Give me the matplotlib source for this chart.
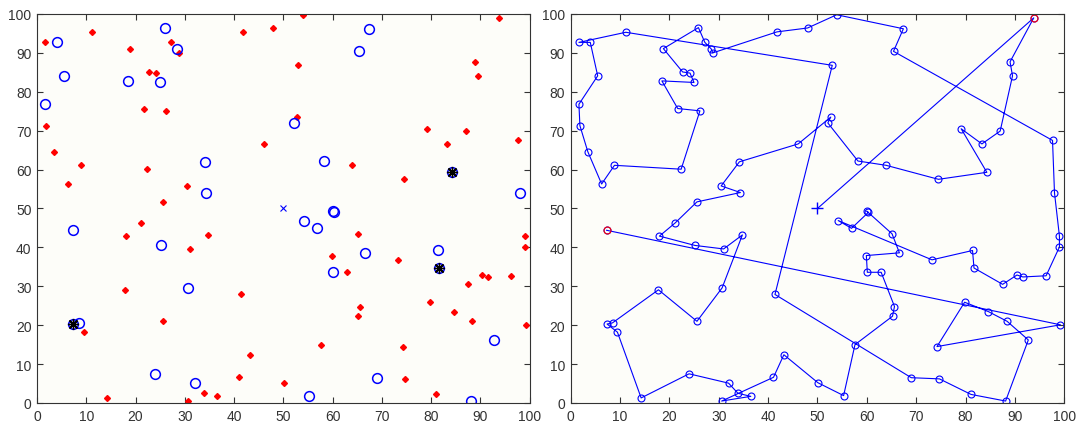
import matplotlib
matplotlib.use("Agg")
from matplotlib import pyplot as plt
import numpy as np

# depot (centre)
depot_x = 50
depot_y = 50

# visiting order of the tour
route_x = [93.8, 89.0, 89.5, 87.0, 83.3, 79.1, 84.3, 74.5, 63.9, 58.2,
           52.1, 52.7, 46.1, 34.2, 30.5, 34.4, 25.6, 21.2, 18.0, 25.2,
           31.0, 34.8, 30.7, 25.6, 17.8, 8.5, 7.4, 9.5, 14.3, 24.0,
           32.0, 33.9, 36.5, 30.6, 41.1, 43.2, 50.1, 55.3, 57.6, 65.2,
           65.6, 62.9, 60.1, 59.9, 66.6, 65.1, 60.0, 60.3, 56.9, 54.2,
           73.2, 81.4, 81.7, 87.5, 90.4, 91.6, 96.3, 99.0, 99.0, 98.0,
           97.6, 65.4, 67.4, 53.9, 48.0, 41.8, 28.8, 28.5, 27.2, 25.9,
           18.8, 22.7, 24.2, 25.0, 18.5, 21.7, 26.2, 22.4, 8.9, 6.3,
           3.5, 1.9, 1.7, 5.5, 4.0, 1.7, 11.2, 53.0, 41.4, 69.0,
           74.7, 81.1, 88.1, 92.7, 88.4, 84.6, 79.8, 74.2, 99.2, 7.3]
route_y = [99.0, 87.7, 84.1, 69.9, 66.6, 70.5, 59.3, 57.5, 61.1, 62.2,
           72.0, 73.5, 66.6, 62.0, 55.8, 54.1, 51.7, 46.3, 42.9, 40.5,
           39.6, 43.2, 29.6, 21.0, 29.1, 20.6, 20.3, 18.2, 1.3, 7.5,
           5.1, 2.5, 1.7, 0.5, 6.6, 12.4, 5.2, 1.9, 15.0, 22.3,
           24.8, 33.6, 33.6, 37.9, 38.6, 43.5, 49.3, 49.0, 44.9, 46.9,
           36.8, 39.2, 34.7, 30.5, 32.9, 32.4, 32.7, 40.1, 42.9, 54.0,
           67.5, 90.4, 96.2, 99.8, 96.4, 95.4, 90.0, 91.0, 92.7, 96.5,
           91.1, 85.1, 84.8, 82.4, 82.8, 75.7, 75.1, 60.1, 61.1, 56.3,
           64.6, 71.3, 76.8, 84.1, 92.7, 92.7, 95.3, 86.8, 27.9, 6.5,
           6.2, 2.2, 0.5, 16.2, 21.0, 23.5, 25.9, 14.5, 20.1, 44.4]
# point type: 'r' = red dot, 'b' = blue circle (left panel)
route_kind = list("rrrrrrbrrb" "brrbrbrrrb" "rrbrrbbrrb"
                  "brrrrrrbrr" "rrbrbrbbbb" "rbbrrrrrrb"
                  "rbbrrrrbrb" "rrrbbrrrrr" "rrbbbrrrrb"
                  "rrbbrrrrrb")

# highlighted points (black asterisks)
star_x = [84.3, 81.7, 7.4]
star_y = [59.3, 34.7, 20.3]

ticks = np.arange(0, 101, 10)
blue = '#0000ff'

plt.rcParams['font.family'] = ['Liberation Sans', 'DejaVu Sans']

fig = plt.figure(figsize=(10.83, 4.27), dpi=100)
ax1 = fig.add_axes([0.0342, 0.0539, 0.4548, 0.911])
ax2 = fig.add_axes([0.5268, 0.0539, 0.4560, 0.911])

rx = np.array(route_x)
ry = np.array(route_y)
kind = np.array(route_kind)

# left panel: customers
ax1.plot(rx[kind == 'r'], ry[kind == 'r'], 'D', color='red', ms=3, mec='red')
ax1.plot(rx[kind == 'b'], ry[kind == 'b'], 'o', color=blue, ms=7, mfc='none', mew=1.1)
ax1.plot(star_x, star_y, marker=(8, 2, 0), color='black', ls='none', ms=8, mew=1)
ax1.plot([depot_x], [depot_y], 'x', color=blue, ms=4, mew=0.8)

# right panel: tour
ax2.plot([depot_x] + route_x, [depot_y] + route_y, '-', color=blue, lw=0.8)
ax2.plot(route_x, route_y, 'o', color=blue, ms=5, mfc='none', mew=0.8)
ax2.plot([route_x[0], route_x[-1]], [route_y[0], route_y[-1]], 'o', color='red',
         ms=5, mfc='none', mew=0.8)
ax2.plot([depot_x], [depot_y], '+', color=blue, ms=8, mew=1)

for ax in (ax1, ax2):
    ax.set_xlim(0, 100)
    ax.set_ylim(0, 100)
    ax.set_xticks(ticks)
    ax.set_yticks(ticks)
    ax.set_facecolor('#fdfdf9')
    ax.tick_params(direction='in', top=True, right=True, length=4, width=0.8,
                   labelsize=10, colors='#333333', pad=4)
    for s in ax.spines.values():
        s.set_color('#333333')
        s.set_linewidth(0.8)

plt.savefig('out.png')
